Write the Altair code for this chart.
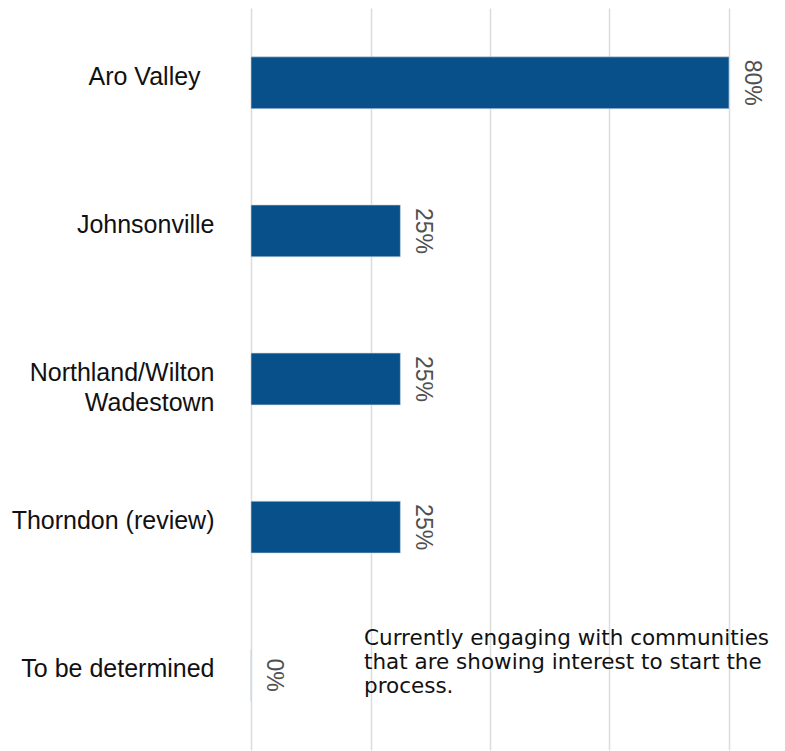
import altair as alt
import pandas as pd

categories = ["Aro Valley\u00a0\u00a0\u200b", "Johnsonville", "Northland/Wilton|Wadestown", "Thorndon (review)", "To be determined"]
values = [0.80, 0.25, 0.25, 0.25, 0.0]
value_labels = ["80%", "25%", "25%", "25%", "0%"]
x_ticks = [0.0, 0.2, 0.4, 0.6, 0.8]
note_lines = ["Currently engaging with communities",
              "that are showing interest to start the",
              "process."]

df = pd.DataFrame({"cat": categories, "val": values, "lab": value_labels})

y_enc = alt.Y("cat:N", sort=categories, title=None,
              scale=alt.Scale(paddingInner=0.65, paddingOuter=0.33),
              axis=alt.Axis(labelExpr="split(datum.label, '|')", labelFont="Liberation Sans",
                            labelFontSize=25, labelColor="#111111", labelPadding=37,
                            labelLineHeight=30, labelOffset=-6, ticks=False, domain=False,
                            labelLimit=300))
x_enc = alt.X("val:Q", title=None,
              scale=alt.Scale(domain=[0, 0.8], nice=False),
              axis=alt.Axis(values=x_ticks, labels=False, ticks=False, domain=False,
                            grid=True, gridColor="#dcdcdc", gridWidth=1.5))

bars = alt.Chart(df).mark_bar(color="#08508A", stroke="#c9d8e6", strokeWidth=0.6).encode(
    x=x_enc, y=y_enc)

labels = alt.Chart(df).mark_text(angle=90, align="center", baseline="middle",
                                 xOffset=23, font="Liberation Sans",
                                 fontSize=23, color="#505050").encode(
    x="val:Q", y=alt.Y("cat:N", sort=categories), text="lab:N")

note = alt.Chart(pd.DataFrame({"t": [note_lines]})).mark_text(
    align="left", baseline="alphabetic", font="DejaVu Sans", fontSize=21.5, lineHeight=24,
    color="#111111").encode(x=alt.value(113), y=alt.value(637), text="t")

chart = alt.layer(bars, labels, note).properties(
    width=478, height=742,
    autosize=alt.AutoSizeParams(type="none"),
    padding={"left": 251, "top": 8, "right": 56, "bottom": 1},
).configure_view(stroke=None)

chart.save("out.html", embed_options={"renderer": "svg", "actions": False})
